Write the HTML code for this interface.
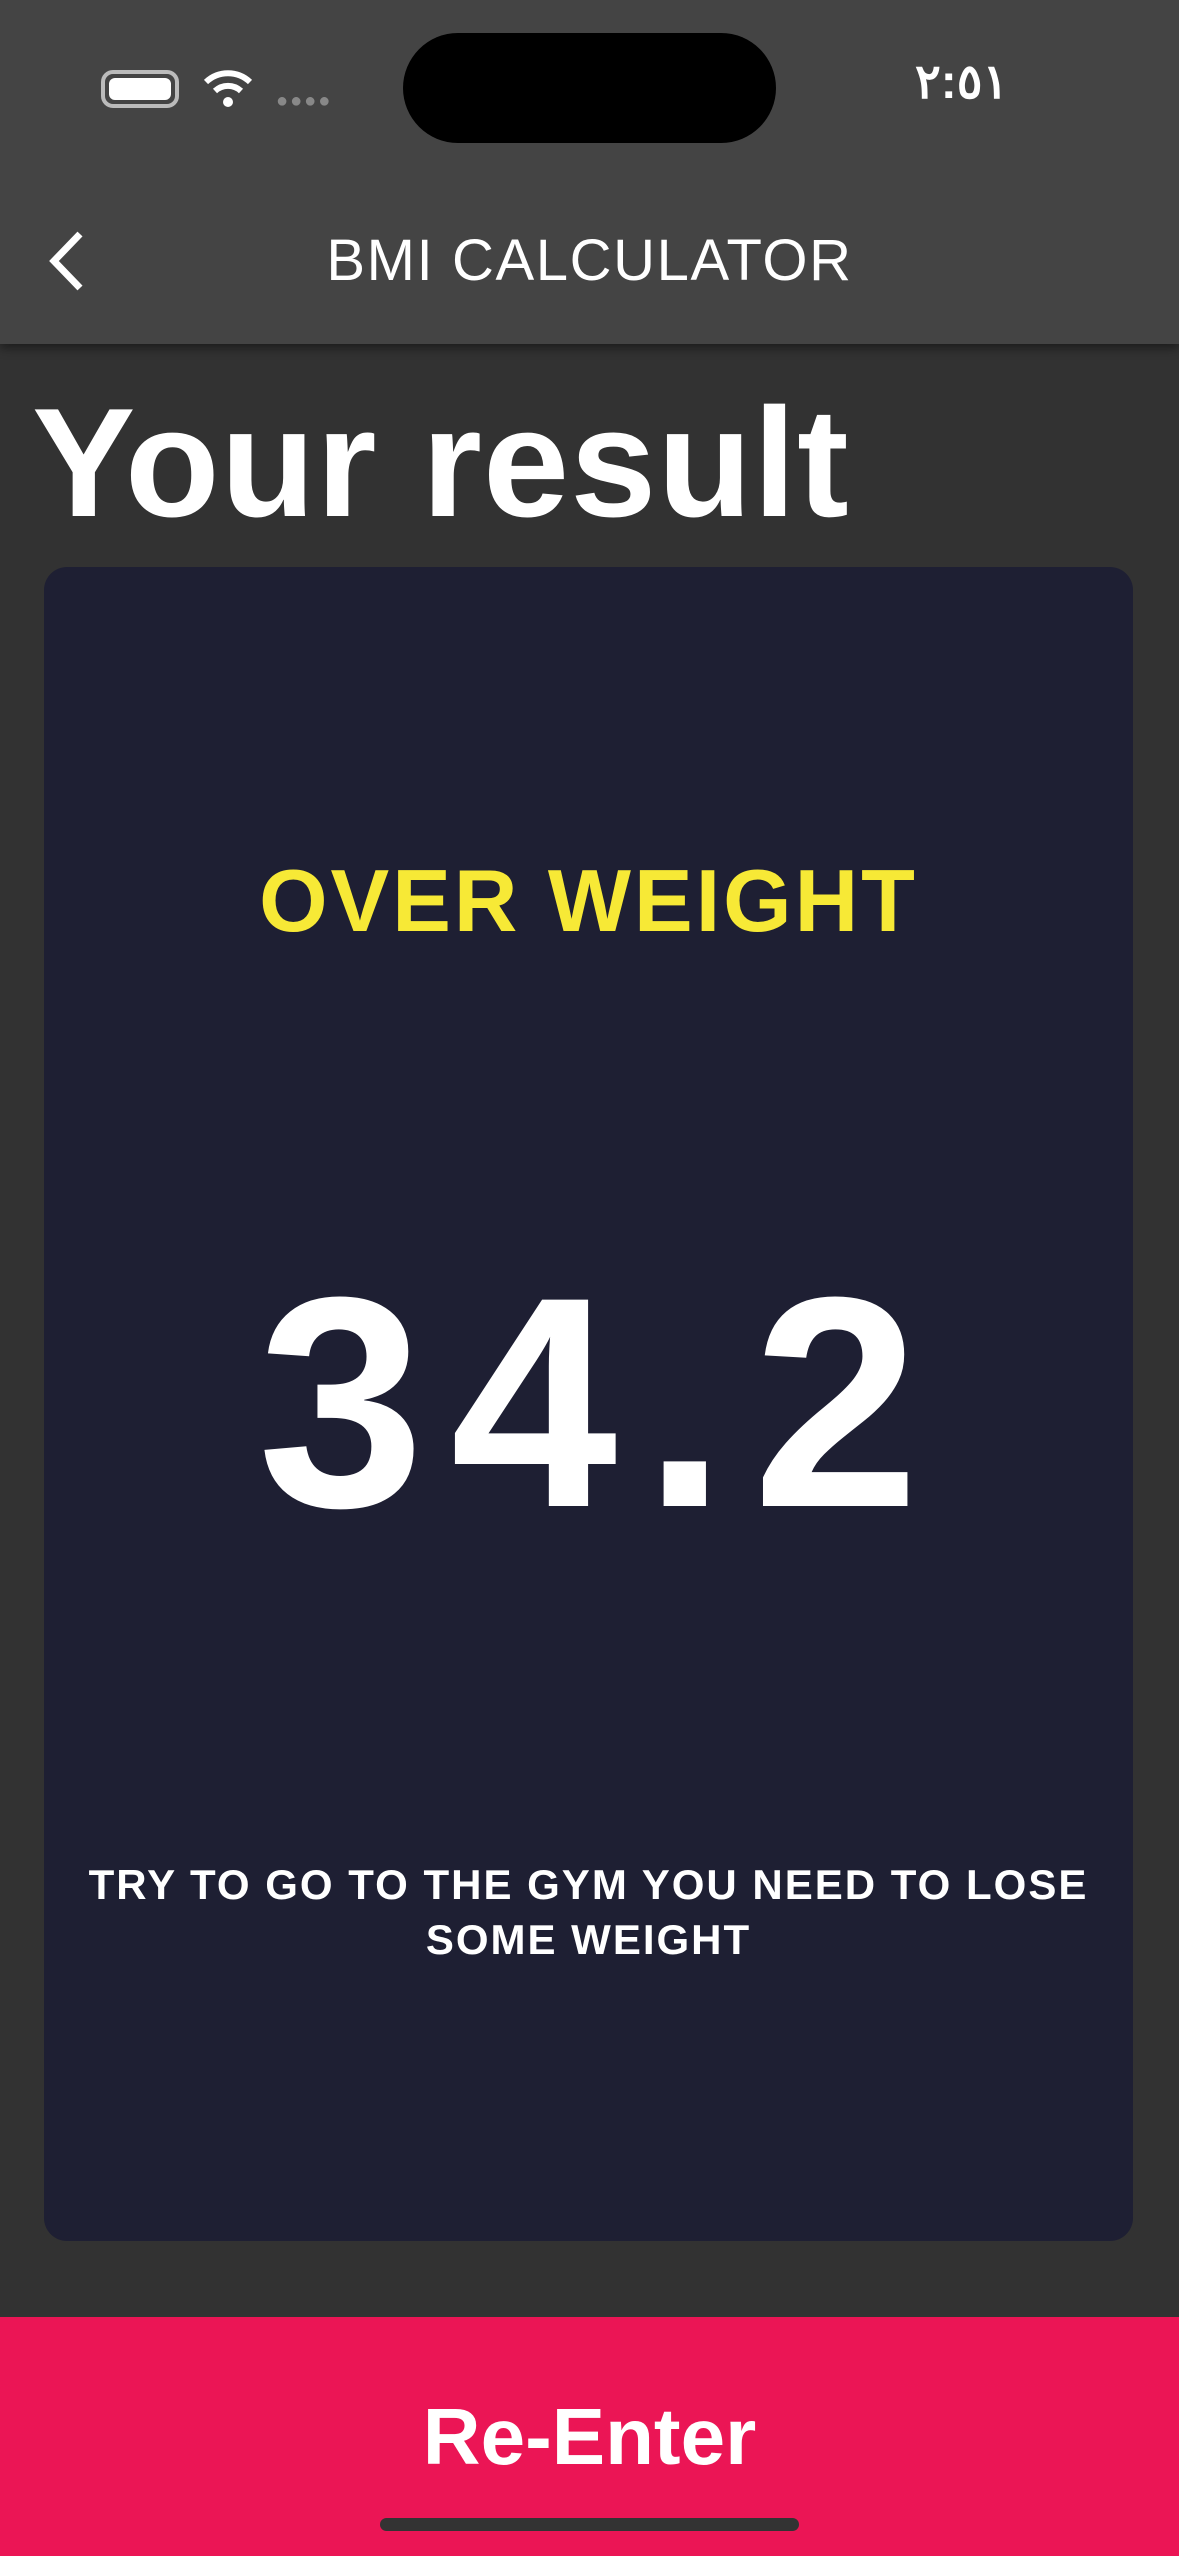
<!DOCTYPE html>
<html><head><meta charset="utf-8"><style>
*{margin:0;padding:0;box-sizing:border-box}
body{width:1179px;height:2556px;background:#323232;font-family:"Liberation Sans","Noto Sans CJK SC",sans-serif;position:relative;overflow:hidden;color:#fff}
.abs{position:absolute}
</style></head><body>
<div class="abs" style="left:0;top:0;width:1179px;height:344px;background:#444;box-shadow:0 4px 10px rgba(0,0,0,.45)">
  <div class="abs" style="left:403px;top:33px;width:373px;height:110px;border-radius:55px;background:#000"></div>
  <div class="abs" style="left:101px;top:70px;width:78px;height:38px;border:4px solid #bbb;border-radius:12px;padding:4px"><div style="width:100%;height:100%;background:#fff;border-radius:6px"></div></div>
  <svg class="abs" style="left:203px;top:66px" width="50" height="42" viewBox="0 0 50 42"><path d="M3 16 A32 32 0 0 1 47 16" stroke="#fff" stroke-width="6" fill="none"/><path d="M12 25 A19 19 0 0 1 38 25" stroke="#fff" stroke-width="6" fill="none"/><circle cx="25" cy="36" r="5" fill="#fff"/></svg>
  <div class="abs" style="left:276px;top:90px;font-size:20px;color:#888;letter-spacing:2px">●●●●</div>
  <div class="abs" style="left:915px;top:54px;font-size:48px;font-weight:bold">٢:٥١</div>
  <svg class="abs" style="left:44px;top:228px" width="46" height="66" viewBox="0 0 46 66"><path d="M36 6 L10 33 L36 60" stroke="#fff" stroke-width="7" fill="none"/></svg>
  <div class="abs" style="left:0;width:1179px;top:228px;text-align:center;font-size:58px;line-height:66px;letter-spacing:1.6px">BMI CALCULATOR</div>
</div>
<div class="abs" style="left:32px;top:378px;font-size:155px;font-weight:bold;line-height:170px;letter-spacing:1px">Your result</div>
<div class="abs" style="left:44px;top:567px;width:1089px;height:1674px;background:#1e1f33;border-radius:23px">
  <div class="abs" style="left:0;width:100%;top:274px;text-align:center;font-size:88px;font-weight:bold;color:#f7e936;line-height:120px;letter-spacing:3px">OVER WEIGHT</div>
  <div class="abs" style="left:13px;width:100%;top:665px;text-align:center;font-size:300px;font-weight:bold;line-height:340px;letter-spacing:26px">34.2</div>
  <div class="abs" style="left:0;width:100%;top:1290px;text-align:center;font-size:42px;font-weight:bold;line-height:55px;letter-spacing:2px">TRY TO GO TO THE GYM YOU NEED TO LOSE<br>SOME WEIGHT</div>
</div>
<div class="abs" style="left:0;top:2317px;width:1179px;height:239px;background:#eb1555">
  <div class="abs" style="left:0;width:100%;top:70px;text-align:center;font-size:80px;font-weight:bold;line-height:100px">Re-Enter</div>
  <div class="abs" style="left:380px;top:201px;width:419px;height:13px;border-radius:7px;background:#333"></div>
</div>
</body></html>
